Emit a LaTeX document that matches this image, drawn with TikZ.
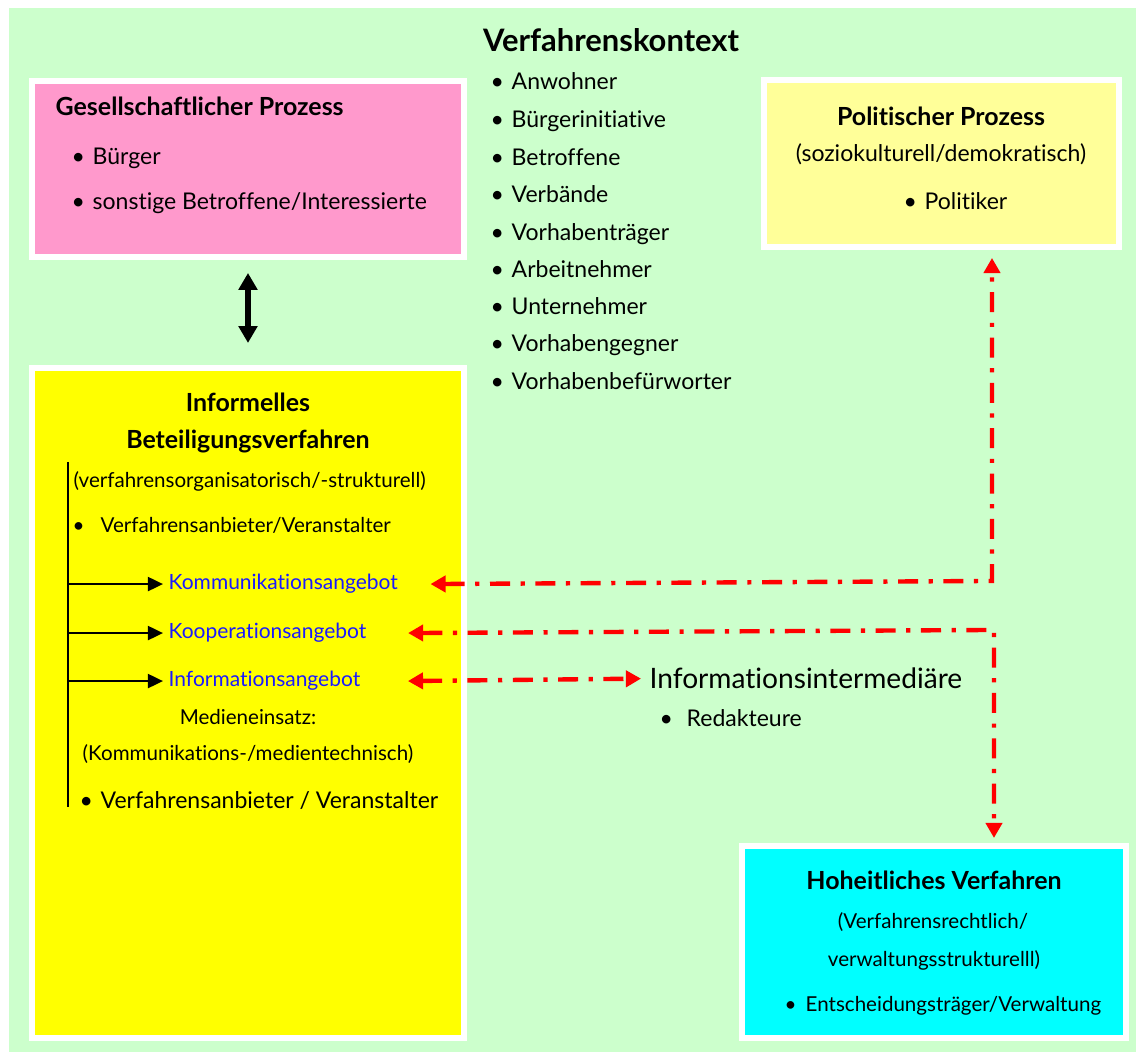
\documentclass[tikz,border=0pt]{standalone}
\usepackage{fontspec}
\setmainfont{Lato}[Ligatures=NoCommon]
\usepackage{tikz}
\usetikzlibrary{arrows.meta}

\definecolor{bggreen}{HTML}{CCFFCC}
\definecolor{gespink}{HTML}{FF99CC}
\definecolor{polyellow}{HTML}{FFFF99}
\definecolor{infyellow}{HTML}{FFFF00}
\definecolor{hohcyan}{HTML}{00FFFF}
\definecolor{angblue}{HTML}{1A1AFF}
\definecolor{linkred}{HTML}{FF0000}

\newcommand{\itm}[2][0.21cm]{\makebox[#1][l]{\textbullet}#2}

\tikzset{
	box/.style={draw=white, line width=1.7pt, inner sep=0pt, outer sep=0pt},
	ttl/.style={inner sep=0pt, font=\bfseries\fontsize{7.1}{8.5}\selectfont},
	txt/.style={inner sep=0pt, font=\fontsize{6.55}{7.5}\selectfont},
	smalltxt/.style={inner sep=0pt, font=\fontsize{5.85}{7}\selectfont},
	bigtxt/.style={inner sep=0pt, font=\fontsize{8.0}{9.5}\selectfont},
	angebot/.style={inner sep=0pt, font=\fontsize{5.97}{7}\selectfont, text=angblue},
	smallarr/.style={-{Triangle[length=4.3pt, width=4pt]}, line width=0.6pt},
	bigarr/.style={{Triangle[length=4.8pt, width=5.2pt]}-{Triangle[length=4.8pt, width=5.2pt]}, line width=1.7pt},
	redarr/.style={{Triangle[length=4.3pt, width=4.6pt]}-{Triangle[length=4.3pt, width=4.6pt]}, linkred, line width=1.25pt,
		dash pattern=on 5.7pt off 3pt on 1.2pt off 3pt}
}

\begin{document}
\begin{tikzpicture}
			\useasboundingbox (0, 0) rectangle (11.36, 10.52);
			% Hintergrund
			\fill[bggreen] (0.09, 0) rectangle (11.36, 10.44);
			
			% Kaesten
			\node[box, fill=gespink, minimum width=4.32cm, minimum height=1.76cm] (gesbox) at (2.48, 8.83) {};
			\node[box, fill=infyellow, minimum width=4.32cm, minimum height=6.70cm] (infbox) at (2.48, 3.49) {};
			\node[box, fill=polyellow, minimum width=3.55cm, minimum height=1.665cm] (polbox) at (9.415, 8.8825) {};
			\node[box, fill=hohcyan, minimum width=3.845cm, minimum height=1.92cm] (hohbox) at (9.34, 1.10) {};
			
			% Verfahrenskontext
			\node[ttl, font=\bfseries\fontsize{8.8}{10}\selectfont, anchor=mid] (kontext) at (6.11, 10.09) {Verfahrenskontext};
			\node[txt, anchor=mid west] (ctx1) at (4.90, 9.71) {\itm{Anwohner}};
			\node[txt, anchor=mid west] (ctx2) at (4.90, 9.33) {\itm{Bürgerinitiative}};
			\node[txt, anchor=mid west] (ctx3) at (4.90, 8.95) {\itm{Betroffene}};
			\node[txt, anchor=mid west] (ctx4) at (4.90, 8.58) {\itm{Verbände}};
			\node[txt, anchor=mid west] (ctx5) at (4.90, 8.20) {\itm{Vorhabenträger}};
			\node[txt, anchor=mid west] (ctx6) at (4.90, 7.83) {\itm{Arbeitnehmer}};
			\node[txt, anchor=mid west] (ctx7) at (4.90, 7.46) {\itm{Unternehmer}};
			\node[txt, anchor=mid west] (ctx8) at (4.90, 7.09) {\itm{Vorhabengegner}};
			\node[txt, anchor=mid west] (ctx9) at (4.90, 6.71) {\itm{Vorhabenbefürworter}};
			
			% Gesellschaftlicher Prozess
			\node[ttl, anchor=mid west] (gestitel) at (0.55, 9.45) {Gesellschaftlicher Prozess};
			\node[txt, anchor=mid west] (buerger) at (0.71, 8.96) {\itm{Bürger}};
			\node[txt, anchor=mid west] (sonstige) at (0.71, 8.51) {\itm{sonstige Betroffene/Interessierte}};
			
			% Politischer Prozess
			\node[ttl, anchor=mid] (poltitel) at (9.41, 9.35) {Politischer Prozess};
			\node[txt, anchor=mid] (polart) at (9.41, 8.99) {(soziokulturell/demokratisch)};
			\node[txt, anchor=mid west] (politiker) at (9.03, 8.51) {\itm{Politiker}};
			
			% Informelles Beteiligungsverfahren
			\node[ttl, anchor=mid] (inftitel1) at (2.48, 6.49) {Informelles};
			\node[ttl, anchor=mid] (inftitel2) at (2.48, 6.12) {Beteiligungsverfahren};
			\node[smalltxt, anchor=mid west] (infart) at (0.73, 5.73) {(verfahrensorganisatorisch/-strukturell)};
			\node[smalltxt, anchor=mid west] (anbieter1) at (0.72, 5.28) {\itm[0.28cm]{Verfahrensanbieter/Veranstalter}};
			\node[angebot, anchor=mid west] (komm) at (1.68, 4.71) {Kommunikationsangebot};
			\node[angebot, anchor=mid west] (koop) at (1.68, 4.22) {Kooperationsangebot};
			\node[angebot, anchor=mid west] (info) at (1.68, 3.74) {Informationsangebot};
			\node[smalltxt, anchor=mid] (medien) at (2.48, 3.36) {Medieneinsatz:};
			\node[smalltxt, anchor=mid] (medienart) at (2.48, 3.00) {(Kommunikations-/medientechnisch)};
			\node[txt, anchor=mid west] (anbieter2) at (0.79, 2.52) {\itm{Verfahrensanbieter / Veranstalter}};
			
			\coordinate (v1) at (0.68, 5.90);
			\coordinate (v2) at (0.68, 2.45);
			\draw[line width=0.6pt] (v1) -- (v2);
			\draw[smallarr, shorten >=0.05cm] (v1 |- komm.west) -- (komm.west);
			\draw[smallarr, shorten >=0.05cm] (v1 |- koop.west) -- (koop.west);
			\draw[smallarr, shorten >=0.05cm] (v1 |- info.west) -- (info.west);
			
			% Informationsintermediaere
			\node[bigtxt, anchor=mid west] (inter) at (6.49, 3.72) {Informationsintermediäre};
			\node[txt, anchor=mid west] (redakt) at (6.59, 3.34) {\itm[0.27cm]{Redakteure}};
			
			% Hoheitliches Verfahren
			\node[ttl, anchor=mid] (hohtitel) at (9.34, 1.71) {Hoheitliches Verfahren};
			\node[smalltxt, anchor=mid] (hohart1) at (9.33, 1.32) {(Verfahrensrechtlich/};
			\node[smalltxt, anchor=mid] (hohart2) at (9.34, 0.94) {verwaltungsstrukturelll)};
			\node[smalltxt, anchor=mid west] (entsch) at (7.84, 0.49) {\itm{Entscheidungsträger/Verwaltung}};
			
			% Pfeile
			\draw[bigarr, shorten <=0.16cm, shorten >=0.25cm] (gesbox.south) -- (infbox.north);
			
			\coordinate (kk) at (9.92, 4.71);
			\coordinate (ko) at (9.94, 4.22);
			\draw[redarr] ([xshift=0.32cm]komm.east) -- (kk) -- ([yshift=-0.11cm]kk |- polbox.south);
			\draw[redarr] ([xshift=0.41cm]koop.east) -- (ko) -- ([yshift=0.08cm]ko |- hohbox.north);
			\draw[redarr] ([xshift=0.47cm]info.east) -- ([xshift=-0.08cm]inter.west);
		\end{tikzpicture}
\end{document}
